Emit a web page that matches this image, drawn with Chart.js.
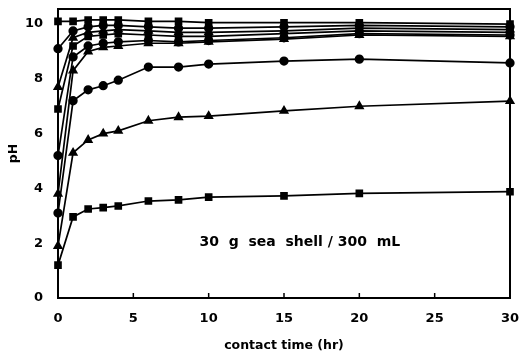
<!DOCTYPE html>
<html>
<head>
<meta charset="utf-8">
<script src="https://cdn.jsdelivr.net/npm/chart.js"></script>
<style>
  html,body{margin:0;padding:0;background:#fff;}
</style>
</head>
<body>
<canvas id="chart" width="520" height="358"></canvas>
<script>
// contact times (hr)
const times = [0, 1, 2, 3, 4, 6, 8, 10, 15, 20, 30];

// pH readings, one array per starting pH
const phA = [10.1, 10.1, 10.15, 10.15, 10.15, 10.1, 10.1, 10.05, 10.05, 10.05, 10.0];
const phB = [9.1, 9.75, 9.9, 9.95, 9.95, 9.9, 9.85, 9.85, 9.9, 9.95, 9.9];
const phC = [7.7, 9.5, 9.7, 9.75, 9.8, 9.75, 9.7, 9.7, 9.75, 9.85, 9.8];
const phD = [6.9, 9.2, 9.55, 9.6, 9.65, 9.6, 9.55, 9.55, 9.65, 9.75, 9.7];
const phE = [5.2, 8.8, 9.2, 9.3, 9.35, 9.4, 9.35, 9.4, 9.5, 9.65, 9.6];
const phF = [3.8, 8.3, 9.0, 9.15, 9.2, 9.3, 9.3, 9.35, 9.45, 9.6, 9.55];
const phG = [3.1, 7.2, 7.6, 7.75, 7.95, 8.43, 8.43, 8.54, 8.65, 8.72, 8.58];
const phH = [1.9, 5.3, 5.77, 6.0, 6.1, 6.47, 6.6, 6.64, 6.83, 7.0, 7.19];
const phI = [1.2, 2.96, 3.25, 3.3, 3.36, 3.54, 3.58, 3.68, 3.73, 3.82, 3.88];

const xTicks = [0, 5, 10, 15, 20, 25, 30];
const yTicks = [0, 2, 4, 6, 8, 10];
const note = "30  g  sea  shell / 300  mL";

const TICKFONT = "'DejaVu Sans', sans-serif";

function series(vals, style){
  return {
    data: vals.map((v,i)=>({x:times[i], y:v})),
    showLine:true,
    borderColor:'#000',
    backgroundColor:'#000',
    borderWidth:1.7,
    pointStyle:style,
    pointRadius: style==='circle' ? 3.8 : 4.2,
    pointBackgroundColor:'#000',
    pointBorderColor:'#000',
    tension:0
  };
}

const frame = {
  id:'frame',
  afterDraw(chart){
    const {ctx, chartArea:a, scales} = chart;
    ctx.save();
    ctx.strokeStyle='#000';
    ctx.lineWidth=2;
    ctx.strokeRect(a.left, a.top, a.right-a.left, a.bottom-a.top);
    // inward ticks on the time axis
    ctx.lineWidth=1.5;
    xTicks.forEach(t=>{
      const px = scales.x.getPixelForValue(t);
      ctx.beginPath(); ctx.moveTo(px, a.bottom); ctx.lineTo(px, a.bottom-5); ctx.stroke();
    });
    ctx.fillStyle='#000';
    ctx.font = "bold 14px " + TICKFONT;
    ctx.textAlign='center';
    ctx.textBaseline='middle';
    ctx.fillText(note, scales.x.getPixelForValue(16.05), scales.y.getPixelForValue(2.04));
    ctx.restore();
  }
};

new Chart(document.querySelector('#chart'),{
  type:'scatter',
  data:{
    datasets:[
      series(phA,'rect'), series(phB,'circle'), series(phC,'triangle'),
      series(phD,'rect'), series(phE,'circle'), series(phF,'triangle'),
      series(phG,'circle'), series(phH,'triangle'), series(phI,'rect')
    ]
  },
  options:{
    responsive:false,
    animation:false,
    devicePixelRatio:1,
    clip:false,
    layout:{autoPadding:false, padding:{top:9, right:10, left:5, bottom:5}},
    plugins:{legend:{display:false}, tooltip:{enabled:false}},
    scales:{
      x:{
        type:'linear', min:0, max:30,
        afterBuildTicks(s){ s.ticks = xTicks.map(v=>({value:v})); },
        afterFit(s){ s.height = 55; s.paddingLeft = 0; s.paddingRight = 0; },
        grid:{display:false, drawTicks:false},
        border:{display:false},
        ticks:{color:'#000', padding:13, font:{family:TICKFONT, size:13, weight:'bold'}, maxRotation:0},
        title:{display:true, text:'contact time (hr)', color:'#000', padding:{top:8, bottom:0}, font:{family:TICKFONT, size:12.5, weight:'bold'}}
      },
      y:{
        type:'linear', min:0, max:10.55,
        afterBuildTicks(s){ s.ticks = yTicks.map(v=>({value:v})); },
        afterFit(s){ s.width = 53; s.paddingTop = 0; s.paddingBottom = 0; },
        grid:{display:false, drawTicks:false},
        border:{display:false},
        ticks:{color:'#000', padding:15, font:{family:TICKFONT, size:13, weight:'bold'}},
        title:{display:true, text:'pH', color:'#000', padding:{top:1, bottom:4}, font:{family:TICKFONT, size:12.5, weight:'bold'}}
      }
    }
  },
  plugins:[frame]
});
</script>
</body>
</html>
